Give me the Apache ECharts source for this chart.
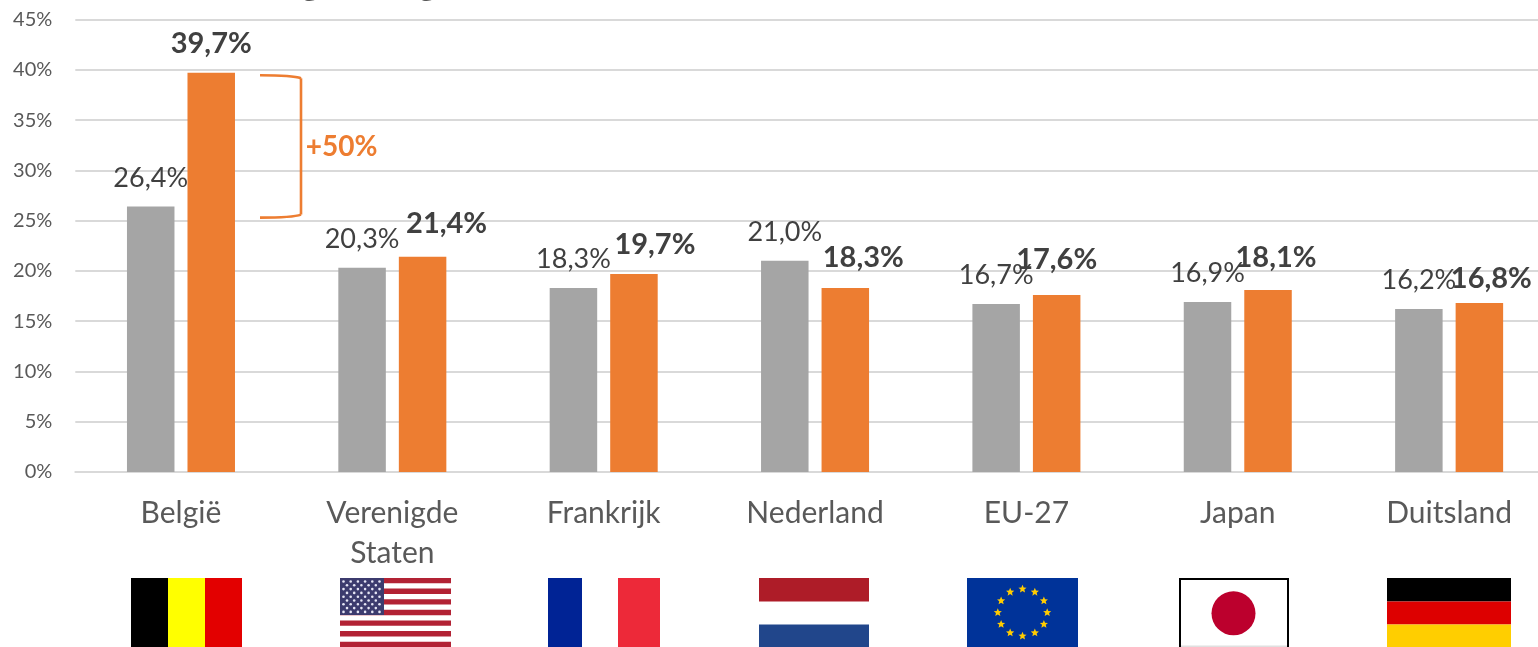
<!DOCTYPE html>
<html><head><meta charset="utf-8">
<style>html,body{margin:0;padding:0;background:#fff}#c{width:1538px;height:647px}</style>
<script src="https://cdn.jsdelivr.net/npm/echarts@6/dist/echarts.min.js"></script>
</head><body><div id="c"></div>
<script>
var categories = ['België', 'Verenigde\nStaten', 'Frankrijk', 'Nederland', 'EU-27', 'Japan', 'Duitsland'];
var greyValues = [26.4, 20.3, 18.3, 21.0, 16.7, 16.9, 16.2];
var orangeValues = [39.7, 21.4, 19.7, 18.3, 17.6, 18.1, 16.8];
var greyNudge = [[0, 0], [0, 0], [0, 0], [0, 0], [0, 0], [0, 0], [0, 0]];
var orangeNudge = [[0, 0], [24, -4], [21, 0], [18, -1], [0, -6], [8, -3], [12, 5]];
var FONT = 'Lato';
var chart = echarts.init(document.getElementById('c'), null, {renderer: 'canvas'});
function fmt(v) { return v.toFixed(1).replace('.', ',') + '%'; }
function mkData(vals, nudge) {
  return vals.map(function (v, i) {
    return {value: v, label: {offset: nudge[i]}};
  });
}
var option = {
  animation: false,
  grid: {left: 75.3, top: 19.5, width: 1479.5, height: 452.5, containLabel: false, outerBoundsMode: 'none'},
  xAxis: {
    type: 'category', data: categories,
    axisTick: {show: false},
    axisLine: {lineStyle: {color: '#D9D9D9', width: 2}},
    axisLabel: {color: '#595959', fontFamily: FONT, fontSize: 30, lineHeight: 40, margin: 21, interval: 0}
  },
  yAxis: {
    type: 'value', min: 0, max: 45, interval: 5,
    axisLine: {show: false}, axisTick: {show: false},
    splitLine: {lineStyle: {color: '#D9D9D9', width: 2}},
    axisLabel: {color: '#595959', fontFamily: FONT, fontSize: 20, margin: 23,
      formatter: function (v) { return v + '%'; }}
  },
  series: [
    {type: 'bar', data: mkData(greyValues, greyNudge), barWidth: 47.5, barGap: '27.4%',
     itemStyle: {color: '#A5A5A5'}, z: 2,
     label: {show: true, position: 'top', distance: 15, color: '#404040', fontFamily: FONT, fontSize: 27,
       formatter: function (p) { return fmt(p.value); }}},
    {type: 'bar', data: mkData(orangeValues, orangeNudge), barWidth: 47.5,
     itemStyle: {color: '#ED7D31'}, z: 3,
     label: {show: true, position: 'top', distance: 15, color: '#404040', fontFamily: FONT, fontWeight: 'bold', fontSize: 29,
       formatter: function (p) { return fmt(p.value); }}}
  ]
};
chart.setOption(option);

function rect(x, y, w, h, fill) { return {type: 'rect', silent: true, shape: {x: x, y: y, width: w, height: h}, style: {fill: fill}}; }
function star(cx, cy, r, fill) {
  var pts = [];
  for (var i = 0; i < 10; i++) {
    var a = -Math.PI / 2 + i * Math.PI / 5, q = i % 2 ? r * 0.45 : r;
    pts.push([cx + q * Math.cos(a), cy + q * Math.sin(a)]);
  }
  return {type: 'polygon', silent: true, shape: {points: pts}, style: {fill: fill}};
}
var TOP = 578, H = 69;
var g = [];
// Belgium
g.push(rect(131, TOP, 37, H, '#000000'), rect(168, TOP, 37, H, '#FFFF00'), rect(205, TOP, 37, H, '#E30000'));
// USA
g.push(rect(340, TOP, 111, H, '#FFFFFF'));
for (var s = 0; s < 13; s += 2) g.push(rect(340, TOP + s * H / 13, 111, H / 13, '#B22234'));
g.push(rect(340, TOP, 44, 37, '#3C3B6E'));
for (var r = 0; r < 9; r++) {
  var n = r % 2 ? 5 : 6;
  for (var k = 0; k < n; k++) g.push({type: 'circle', silent: true,
    shape: {cx: 343.5 + (r % 2 ? 3.5 : 0) + k * 7.2, cy: 581.5 + r * 3.8, r: 1.3}, style: {fill: '#E6E6F5'}});
}
// France
g.push(rect(548, TOP, 34, H, '#002395'), rect(618, TOP, 42, H, '#ED2939'));
// Netherlands
g.push(rect(759, TOP, 110, 23.5, '#AE1C28'), rect(759, 624.5, 110, 22.5, '#21468B'));
// EU
g.push(rect(967, TOP, 111, H, '#003399'));
for (var i = 0; i < 12; i++) {
  var a = i * Math.PI / 6;
  g.push(star(1022.5 + 24.7 * Math.sin(a), 612.5 - 23.5 * Math.cos(a), 4.3, '#FFCC00'));
}
// Japan
g.push({type: 'rect', silent: true, shape: {x: 1180, y: 579, width: 108, height: 72},
  style: {fill: '#fff', stroke: '#000', lineWidth: 2}});
g.push(rect(1181, 645.5, 106, 1.5, '#E0E0E0'));
g.push({type: 'circle', silent: true, shape: {cx: 1233.5, cy: 613.3, r: 22}, style: {fill: '#BC002D'}});
// Germany
g.push(rect(1387, TOP, 124, 23.5, '#000000'), rect(1387, 601.5, 124, 23, '#DD0000'), rect(1387, 624.5, 124, 22.5, '#FFCE00'));
// Bracket
var yTop = chart.convertToPixel({yAxisIndex: 0}, orangeValues[0]) + 2.5;
var yBot = chart.convertToPixel({yAxisIndex: 0}, greyValues[0] - 1.1);
function bs() { return {fill: 'none', stroke: '#ED7D31', lineWidth: 2.6}; }
g.push({type: 'polyline', silent: true, shape: {points: [[301, yTop + 3], [301, yBot - 3]]}, style: bs()});
g.push({type: 'bezierCurve', silent: true, shape: {x1: 260, y1: yTop, cpx1: 293, cpy1: yTop, x2: 301, y2: yTop + 3}, style: bs()});
g.push({type: 'bezierCurve', silent: true, shape: {x1: 260, y1: yBot, cpx1: 293, cpy1: yBot, x2: 301, y2: yBot - 3}, style: bs()});
g.push({type: 'text', silent: true, style: {x: 341.5, y: 147, text: '+50%', fill: '#ED7D31', fontFamily: FONT, fontWeight: 'bold', fontSize: 28, align: 'center', verticalAlign: 'middle'}});
// title remnants clipped by the top edge
g.push({type: 'text', silent: true, style: {x: 310, y: 1.5, text: 'g', fill: '#595959', fontFamily: FONT, fontWeight: 'bold', fontSize: 30, align: 'center', verticalAlign: 'bottom'}});
g.push({type: 'text', silent: true, style: {x: 427, y: 1.5, text: 'g', fill: '#595959', fontFamily: FONT, fontWeight: 'bold', fontSize: 30, align: 'center', verticalAlign: 'bottom'}});
chart.setOption({graphic: {elements: g}});
</script></body></html>
